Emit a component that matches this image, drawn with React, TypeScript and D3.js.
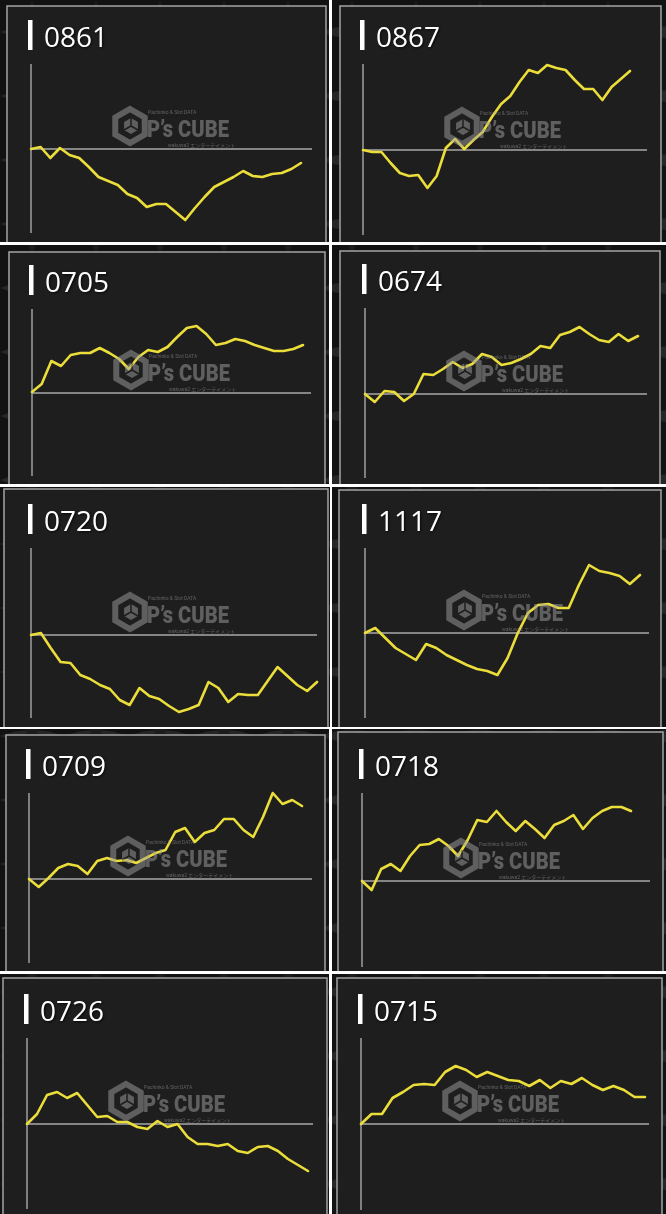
import React from "react";
import * as d3 from "d3";

// ---- data (difference curves, arbitrary units; 0 = start) ----
const titles = ["0861", "0867", "0705", "0674", "0720", "1117", "0709", "0718", "0726", "0715"];

const s0861 = [0, 2, -9, 1, -6, -9, -18, -28, -32, -36, -45, -49, -58, -55, -55, -63, -71, -59, -48, -38, -33, -28, -22, -27, -28, -25, -24, -20, -14];
const s0867 = [0, -2, -2, -13, -23, -26, -25, -38, -26, 2, 11, 1, 10, 18, 33, 46, 54, 68, 80, 77, 85, 82, 80, 70, 61, 61, 50, 63, 71, 79];
const s0705 = [1, 9, 32, 27, 38, 40, 40, 45, 40, 34, 24, 36, 43, 41, 46, 56, 65, 67, 59, 48, 50, 54, 52, 48, 45, 42, 42, 44, 48];
const s0674 = [0, -8, 3, 2, -7, 0, 20, 19, 25, 32, 26, 30, 40, 37, 29, 31, 35, 40, 48, 46, 59, 62, 67, 60, 54, 52, 60, 53, 58];
const s0720 = [0, 2, -13, -27, -28, -40, -44, -50, -54, -65, -70, -53, -61, -64, -71, -77, -74, -70, -47, -53, -67, -59, -60, -60, -46, -32, -41, -50, -56, -47];
const s1117 = [0, 5, -5, -15, -21, -27, -11, -15, -22, -27, -32, -36, -38, -42, -25, 0, 20, 28, 29, 25, 25, 48, 68, 62, 60, 57, 49, 58];
const s0709 = [0, -8, 1, 11, 15, 13, 5, 18, 21, 18, 19, 16, 21, 26, 29, 47, 51, 37, 46, 49, 60, 60, 49, 42, 62, 86, 75, 79, 73];
const s0718 = [0, -9, 12, 17, 10, 25, 36, 37, 42, 35, 25, 41, 61, 59, 70, 59, 50, 60, 52, 43, 56, 60, 66, 52, 63, 70, 74, 74, 70];
const s0726 = [0, 10, 29, 32, 26, 31, 19, 7, 8, 2, 2, -3, -5, 3, -3, 0, -13, -20, -20, -22, -20, -27, -29, -23, -22, -27, -35, -41, -47];
const s0715 = [0, 10, 10, 26, 32, 39, 40, 39, 52, 58, 54, 47, 52, 48, 44, 43, 38, 44, 36, 43, 40, 46, 39, 34, 38, 34, 27, 27];

const seriesList = [s0861, s0867, s0705, s0674, s0720, s1117, s0709, s0718, s0726, s0715];
const yDomain = [-100, 100];

// ---- layout (screen-capture tiles) ----
type Lay = {
  tile: [number, number, number, number];
  panel: [number, number, number];
  axisX: number; axisTop: number; axisBottom: number; zeroY: number; zeroEnd: number; lineEnd: number;
};
const layouts: Lay[] = [
  { tile: [0, 0, 329, 242], panel: [7, 6, 326], axisX: 31, axisTop: 64, axisBottom: 233, zeroY: 149, zeroEnd: 312, lineEnd: 301 },
  { tile: [332, 0, 666, 242], panel: [340, 6, 661], axisX: 363, axisTop: 64, axisBottom: 235, zeroY: 150, zeroEnd: 647, lineEnd: 630 },
  { tile: [0, 245, 329, 484], panel: [9, 252, 325], axisX: 32, axisTop: 309, axisBottom: 476, zeroY: 393, zeroEnd: 311, lineEnd: 303 },
  { tile: [332, 245, 666, 484], panel: [340, 251, 660], axisX: 365, axisTop: 308, axisBottom: 478, zeroY: 394, zeroEnd: 647, lineEnd: 638 },
  { tile: [0, 487, 330, 727], panel: [4, 489, 328], axisX: 31, axisTop: 548, axisBottom: 718, zeroY: 635, zeroEnd: 317, lineEnd: 317 },
  { tile: [332, 487, 666, 727], panel: [339, 490, 661], axisX: 365, axisTop: 548, axisBottom: 718, zeroY: 633, zeroEnd: 649, lineEnd: 640 },
  { tile: [0, 729, 329, 971], panel: [6, 735, 325], axisX: 29, axisTop: 793, axisBottom: 963, zeroY: 879, zeroEnd: 312, lineEnd: 302 },
  { tile: [332, 729, 666, 971], panel: [338, 732, 663], axisX: 362, axisTop: 793, axisBottom: 967, zeroY: 881, zeroEnd: 650, lineEnd: 631 },
  { tile: [0, 974, 329, 1214], panel: [3, 978, 327], axisX: 27, axisTop: 1038, axisBottom: 1209, zeroY: 1124, zeroEnd: 313, lineEnd: 308 },
  { tile: [332, 974, 666, 1214], panel: [337, 978, 662], axisX: 361, axisTop: 1038, axisBottom: 1210, zeroY: 1124, zeroEnd: 649, lineEnd: 645 },
];

const YELLOW = "#ebdd3a";
const GRID = "#a8a8a8";
const PANEL_BG = "#1e1e1e";
const WM = "#a0a0a0";

function hexPath(cx: number, cy: number, r: number) {
  const pts: [number, number][] = d3.range(6).map((k) => {
    const a = (Math.PI / 3) * k - Math.PI / 2;
    return [cx + r * Math.cos(a), cy + r * Math.sin(a)];
  });
  return "M" + pts.map((p) => p.join(",")).join("L") + "Z";
}

function Watermark({ ax, zy }: { ax: number; zy: number }) {
  const cx = ax + 99;
  const cy = zy - 23;
  return (
    <g opacity={0.5} fill={WM}>
      <path d={hexPath(cx, cy, 17)} fill="none" stroke={WM} strokeWidth={6} />
      <path d={hexPath(cx + 1, cy, 8)} fill={WM} />
      <path
        d={`M${cx + 1},${cy - 8}L${cx + 1},${cy}L${cx + 8},${cy + 4}M${cx + 1},${cy}L${cx - 6},${cy + 4}`}
        stroke={PANEL_BG}
        strokeWidth={1.5}
        fill="none"
      />
      <text x={ax + 117} y={zy - 35.5} fontSize={5} fontFamily="Roboto, sans-serif">
        Pachinko &amp; Slot DATA
      </text>
      <text
        x={ax + 116}
        y={zy - 12.5}
        fontSize={23}
        fontWeight={900}
        fontFamily="Roboto, sans-serif"
        textLength={82}
        lengthAdjust="spacingAndGlyphs"
      >
        P’s CUBE
      </text>
      <text x={ax + 137} y={zy - 1.8} fontSize={5} fontFamily="Roboto, 'Noto Sans CJK JP', sans-serif">
        wakuwa2 エンターテイメント
      </text>
    </g>
  );
}

function Panel({ i }: { i: number }) {
  const L = layouts[i];
  const data = seriesList[i];
  const [tx0, ty0, tx1, ty1] = L.tile;
  const [pl, pt, pr] = L.panel;
  const x = d3.scaleLinear().domain([0, data.length - 1]).range([L.axisX, L.lineEnd]);
  const y = d3.scaleLinear().domain(yDomain).range([L.zeroY - yDomain[0], L.zeroY - yDomain[1]]);
  const line = d3
    .line<number>()
    .x((_, k) => x(k))
    .y((d) => y(d));
  const clipId = `clip-${i}`;
  return (
    <g>
      <defs>
        <clipPath id={clipId}>
          <rect x={tx0} y={ty0} width={tx1 - tx0} height={ty1 - ty0} />
        </clipPath>
      </defs>
      <g clipPath={`url(#${clipId})`}>
        <rect x={tx0} y={ty0} width={tx1 - tx0} height={ty1 - ty0} fill="url(#bgpat)" />
        <rect
          x={pl}
          y={pt}
          width={pr - pl}
          height={ty1 - pt + 20}
          fill={PANEL_BG}
          stroke="#9c9c9c"
          strokeWidth={1.6}
        />
        {/* title */}
        <rect x={L.axisX - 3} y={L.axisTop - 44} width={4.5} height={30} fill="#ffffff" />
        <text
          x={L.axisX + 13}
          y={L.axisTop - 17}
          fontSize={28}
          fill="#ffffff"
          fontFamily="'Open Sans', sans-serif"
          style={{ filter: "drop-shadow(1px 1px 1px rgba(0,0,0,0.7))" }}
        >
          {titles[i]}
        </text>
        {/* axes */}
        <line x1={L.axisX} x2={L.axisX} y1={L.axisTop} y2={L.axisBottom} stroke={GRID} strokeWidth={1.4} />
        <line x1={L.axisX} x2={L.zeroEnd} y1={y(0)} y2={y(0)} stroke={GRID} strokeWidth={1.6} />
        {/* series */}
        <path
          d={line(data) || ""}
          fill="none"
          stroke={YELLOW}
          strokeWidth={2.6}
          strokeLinejoin="round"
          strokeLinecap="round"
        />
        <Watermark ax={L.axisX} zy={L.zeroY} />
      </g>
    </g>
  );
}

export default function App() {
  return (
    <div style={{ position: "absolute", left: 0, top: 0 }}>
      <svg width={666} height={1214} style={{ display: "block" }}>
        <defs>
          <pattern id="bgpat" width="64" height="64" patternUnits="userSpaceOnUse">
            <rect width="64" height="64" fill="#121212" />
            <path d="M0,32 Q32,20 64,32 Q32,44 0,32Z" fill="#262626" />
            <path d="M32,0 Q20,32 32,64 Q44,32 32,0Z" fill="#1c1c1c" />
          </pattern>
        </defs>
        <rect width={666} height={1214} fill="#ffffff" />
        {layouts.map((_, i) => (
          <Panel key={i} i={i} />
        ))}
      </svg>
    </div>
  );
}
